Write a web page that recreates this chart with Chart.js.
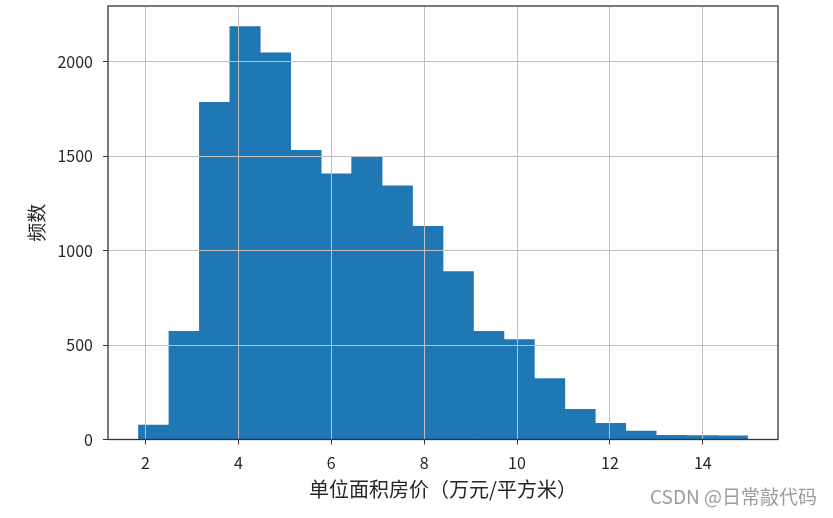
<!DOCTYPE html>
<html>
<head>
<meta charset="utf-8">
<script src="https://cdn.jsdelivr.net/npm/chart.js@4.4.1/dist/chart.umd.min.js"></script>
<style>
  html, body { margin: 0; padding: 0; background: #ffffff; }
  #wrap { position: relative; width: 833px; height: 518px; }
  #mark { position: absolute; left: 650px; top: 486px; font-family: "Noto Sans CJK SC", sans-serif; font-size: 19px; color: #9c9c9c; white-space: nowrap; line-height: 1; }
</style>
</head>
<body>
<div id="wrap">
  <canvas id="c" width="833" height="518"></canvas>
  <div id="mark">CSDN @日常敲代码</div>
</div>
<script>
// Histogram bin edges (万元/平方米)
const binEdges = [1.849, 2.505, 3.161, 3.816, 4.472, 5.128, 5.784, 6.440, 7.095, 7.751,
                  8.407, 9.063, 9.719, 10.374, 11.030, 11.686, 12.342, 12.997, 13.653, 14.309, 14.965];
// Frequency per bin
const counts = [77, 573, 1785, 2186, 2047, 1531, 1406, 1494, 1343, 1128,
                889, 573, 529, 322, 160, 86, 44, 22, 21, 20];
// Axis ticks
const xTicks = [2, 4, 6, 8, 10, 12, 14];
const yTicks = [0, 500, 1000, 1500, 2000];
const xLabel = '单位面积房价（万元/平方米）';
const yLabel = '频数';

const points = counts.map((c, i) => ({ x: (binEdges[i] + binEdges[i + 1]) / 2, y: c }));

const font = "'Noto Sans CJK SC', 'DejaVu Sans', sans-serif";
const textColor = '#262626';

const framePlugin = {
  id: 'frame',
  afterDraw(chart) {
    const a = chart.chartArea, ctx = chart.ctx;
    ctx.save();
    ctx.strokeStyle = '#333333';
    ctx.lineWidth = 1.3;
    ctx.strokeRect(a.left, a.top, a.right - a.left, a.bottom - a.top);
    ctx.restore();
  }
};

new Chart(document.getElementById('c'), {
  type: 'bar',
  data: {
    datasets: [{
      data: points,
      backgroundColor: '#1f77b4',
      borderWidth: 0,
      barPercentage: 1,
      categoryPercentage: 1
    }]
  },
  options: {
    responsive: false,
    devicePixelRatio: 1,
    animation: false,
    layout: { padding: { top: 6, right: 55, left: 0, bottom: 0 } },
    plugins: { legend: { display: false }, tooltip: { enabled: false } },
    scales: {
      x: {
        type: 'linear',
        min: 1.193,
        max: 15.62,
        offset: false,
        afterBuildTicks: (axis) => { axis.ticks = xTicks.map(v => ({ value: v })); },
        afterFit: (s) => { s.height = 78.5; s.paddingLeft = 0; s.paddingRight = 0; },
        grid: { offset: false, color: '#c0c0c0', lineWidth: 1, z: 1, drawTicks: true, tickLength: 5, tickColor: '#333333' },
        border: { display: false },
        ticks: { color: textColor, font: { family: font, size: 16 }, padding: 9, maxRotation: 0, autoSkip: false, callback: v => String(v) },
        title: { display: true, text: xLabel, color: textColor, font: { family: font, size: 20 }, padding: { top: 0, bottom: 17 } }
      },
      y: {
        type: 'linear',
        min: 0,
        max: 2295,
        afterBuildTicks: (axis) => { axis.ticks = yTicks.map(v => ({ value: v })); },
        afterFit: (s) => { s.width = 108; s.paddingTop = 0; s.paddingBottom = 0; },
        grid: { offset: false, color: '#c0c0c0', lineWidth: 1, z: 1, drawTicks: true, tickLength: 5, tickColor: '#333333' },
        border: { display: false },
        ticks: { color: textColor, font: { family: font, size: 16 }, padding: 10, autoSkip: false, callback: v => String(v) },
        title: { display: true, text: yLabel, color: textColor, font: { family: font, size: 19 }, padding: { top: 25, bottom: 0 } }
      }
    }
  },
  plugins: [framePlugin]
});
</script>
</body>
</html>
